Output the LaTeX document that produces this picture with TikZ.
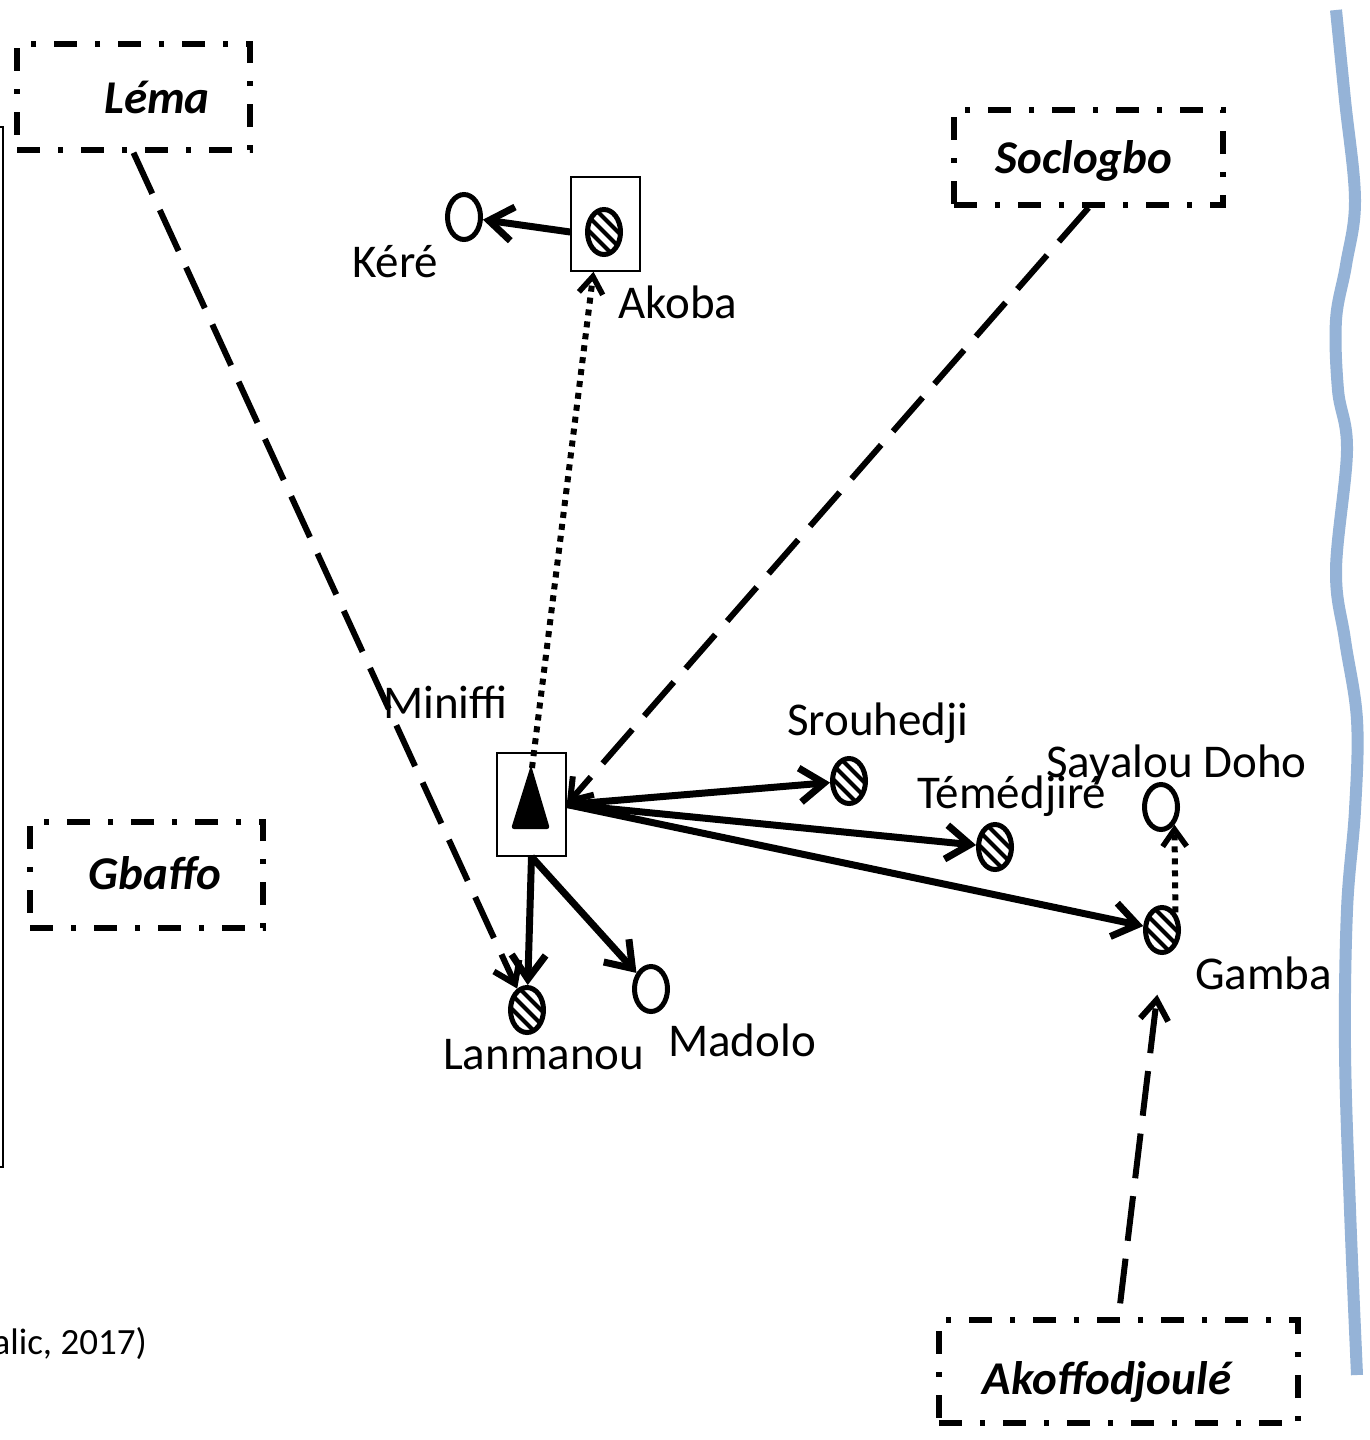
\documentclass[tikz,border=0pt]{standalone}
\usepackage{fontspec}
\setmainfont{Carlito}
\usetikzlibrary{arrows.meta,shapes.geometric}
\definecolor{riverblue}{HTML}{95B3D7}
\tikzset{
  lbl/.style={anchor=base west, inner sep=0pt, font=\fontsize{47pt}{56pt}\selectfont},
  blbl/.style={anchor=base, inner sep=0pt, font=\fontsize{47pt}{56pt}\selectfont\bfseries\itshape},
  village/.style={draw, line width=5.5pt, dash pattern=on 23pt off 18pt on 5pt off 18pt, rectangle, inner sep=0pt},
  thinbox/.style={draw, line width=1.5pt, rectangle, inner sep=0pt},
  ring/.style={ellipse, draw, line width=5pt, minimum width=33pt, minimum height=45pt, inner sep=0pt},
  hatched/.style={ring, path picture={
      \foreach \k in {-56,-42,...,56}{
        \draw[line width=4.2pt] ([xshift=\k pt]path picture bounding box.center) ++(-30pt,30pt) -- ++(60pt,-60pt);}}},
  solidarr/.style={line width=7pt, -{Straight Barb[length=24pt,width=34pt,line width=7pt]}},
  dasharr/.style={line width=6pt, dash pattern=on 45pt off 18pt, -{Straight Barb[length=20pt,width=28pt,line width=6pt]}},
  dotarr/.style={line width=6pt, dash pattern=on 6pt off 6pt, -{Straight Barb[length=17pt,width=24pt,line width=5.5pt]}},
}
\begin{document}
\begin{tikzpicture}[x=1pt,y=-1pt]
\useasboundingbox (0,0) rectangle (1369,1440);
\fill[white] (0,0) rectangle (1369,1440);

% frame fragment and caption fragment
\draw[line width=1.5pt] (0,127) -- (3,127) -- (3,1167) -- (0,1167);
\node[anchor=base east, inner sep=0pt, font=\fontsize{37pt}{44pt}\selectfont] (src) at (147,1354) {alic, 2017)};

% river
\draw[line width=12pt, riverblue] plot[smooth, tension=0.6] coordinates {
 (1336,10) (1345,100) (1355,200) (1346,265) (1336,320) (1338,390) (1347,450)
 (1336,570) (1345,640) (1357,720) (1355,810) (1347,910) (1345,1050) (1350,1210) (1357,1375)};

% villages (dash-dot boxes)
\node[village, minimum width=233pt, minimum height=106pt] (lema) at (133.5,97) {};
\node[blbl] (lemat) at (157,113) {Léma};
\node[village, minimum width=269pt, minimum height=95pt] (soclogbo) at (1088.5,157.5) {};
\node[blbl] (soclogbot) at (1084,173) {Soclogbo};
\node[village, minimum width=233pt, minimum height=106pt] (gbaffo) at (146.5,875) {};
\node[blbl] (gbaffot) at (155,889) {Gbaffo};
\node[village, minimum width=359pt, minimum height=103pt] (akoff) at (1118.5,1371.5) {};
\node[blbl] (akofft) at (1107,1394) {Akoffodjoulé};

% Akoba and Kéré
\node[thinbox, minimum width=69pt, minimum height=94pt] (akobabox) at (605.5,224) {};
\node[hatched] (akoba) at (604,232) {};
\node[lbl] (akobat) at (618,318) {Akoba};
\node[ring] (kere) at (464,217) {};
\node[lbl] (keret) at (352,277) {Kéré};

% Miniffi
\node[thinbox, minimum width=69pt, minimum height=103pt] (miniffi) at (531.5,804.5) {};
\fill[rounded corners=3pt] (511,829) -- (531,765) -- (550,829) -- cycle;
\coordinate (apex) at (532,768);
\node[lbl] (miniffit) at (383,718) {Miniffi};

% other settlements
\node[hatched] (srou) at (849,781) {};
\node[lbl] (srout) at (787,735) {Srouhedji};
\node[hatched] (teme) at (995,847) {};
\node[lbl] (temet) at (917,808) {Témédjiré};
\node[ring] (sayalou) at (1161,807) {};
\node[lbl] (sayalout) at (1046,777) {Sayalou Doho};
\node[hatched] (gamba) at (1162,930) {};
\node[lbl] (gambat) at (1195,989) {Gamba};
\node[hatched] (lanmanou) at (527,1010) {};
\node[lbl] (lanmanout) at (443,1069) {Lanmanou};
\node[ring] (madolo) at (651,989) {};
\node[lbl] (madolot) at (668,1056) {Madolo};

% connectors
\draw[solidarr] (akobabox.west |- akoba) -- (kere);
\draw[dotarr] (apex) -- ([xshift=-12pt]akobabox.south);
\draw[solidarr] (miniffi.east) -- (srou);
\draw[solidarr] (miniffi.east) -- (teme);
\draw[solidarr] (miniffi.east) -- (gamba);
\draw[solidarr] (miniffi.south) -- (lanmanou);
\draw[solidarr] (miniffi.south) -- (madolo);
\draw[dotarr] (gamba.north east) -- (sayalou.south east);
\draw[dasharr] (lema.south) -- (lanmanou);
\draw[dasharr] (soclogbo.south) -- (miniffi.east);
\draw[dasharr, shorten <=14pt, shorten >=40pt] (akoff.north) -- (gamba.south);
\end{tikzpicture}
\end{document}
